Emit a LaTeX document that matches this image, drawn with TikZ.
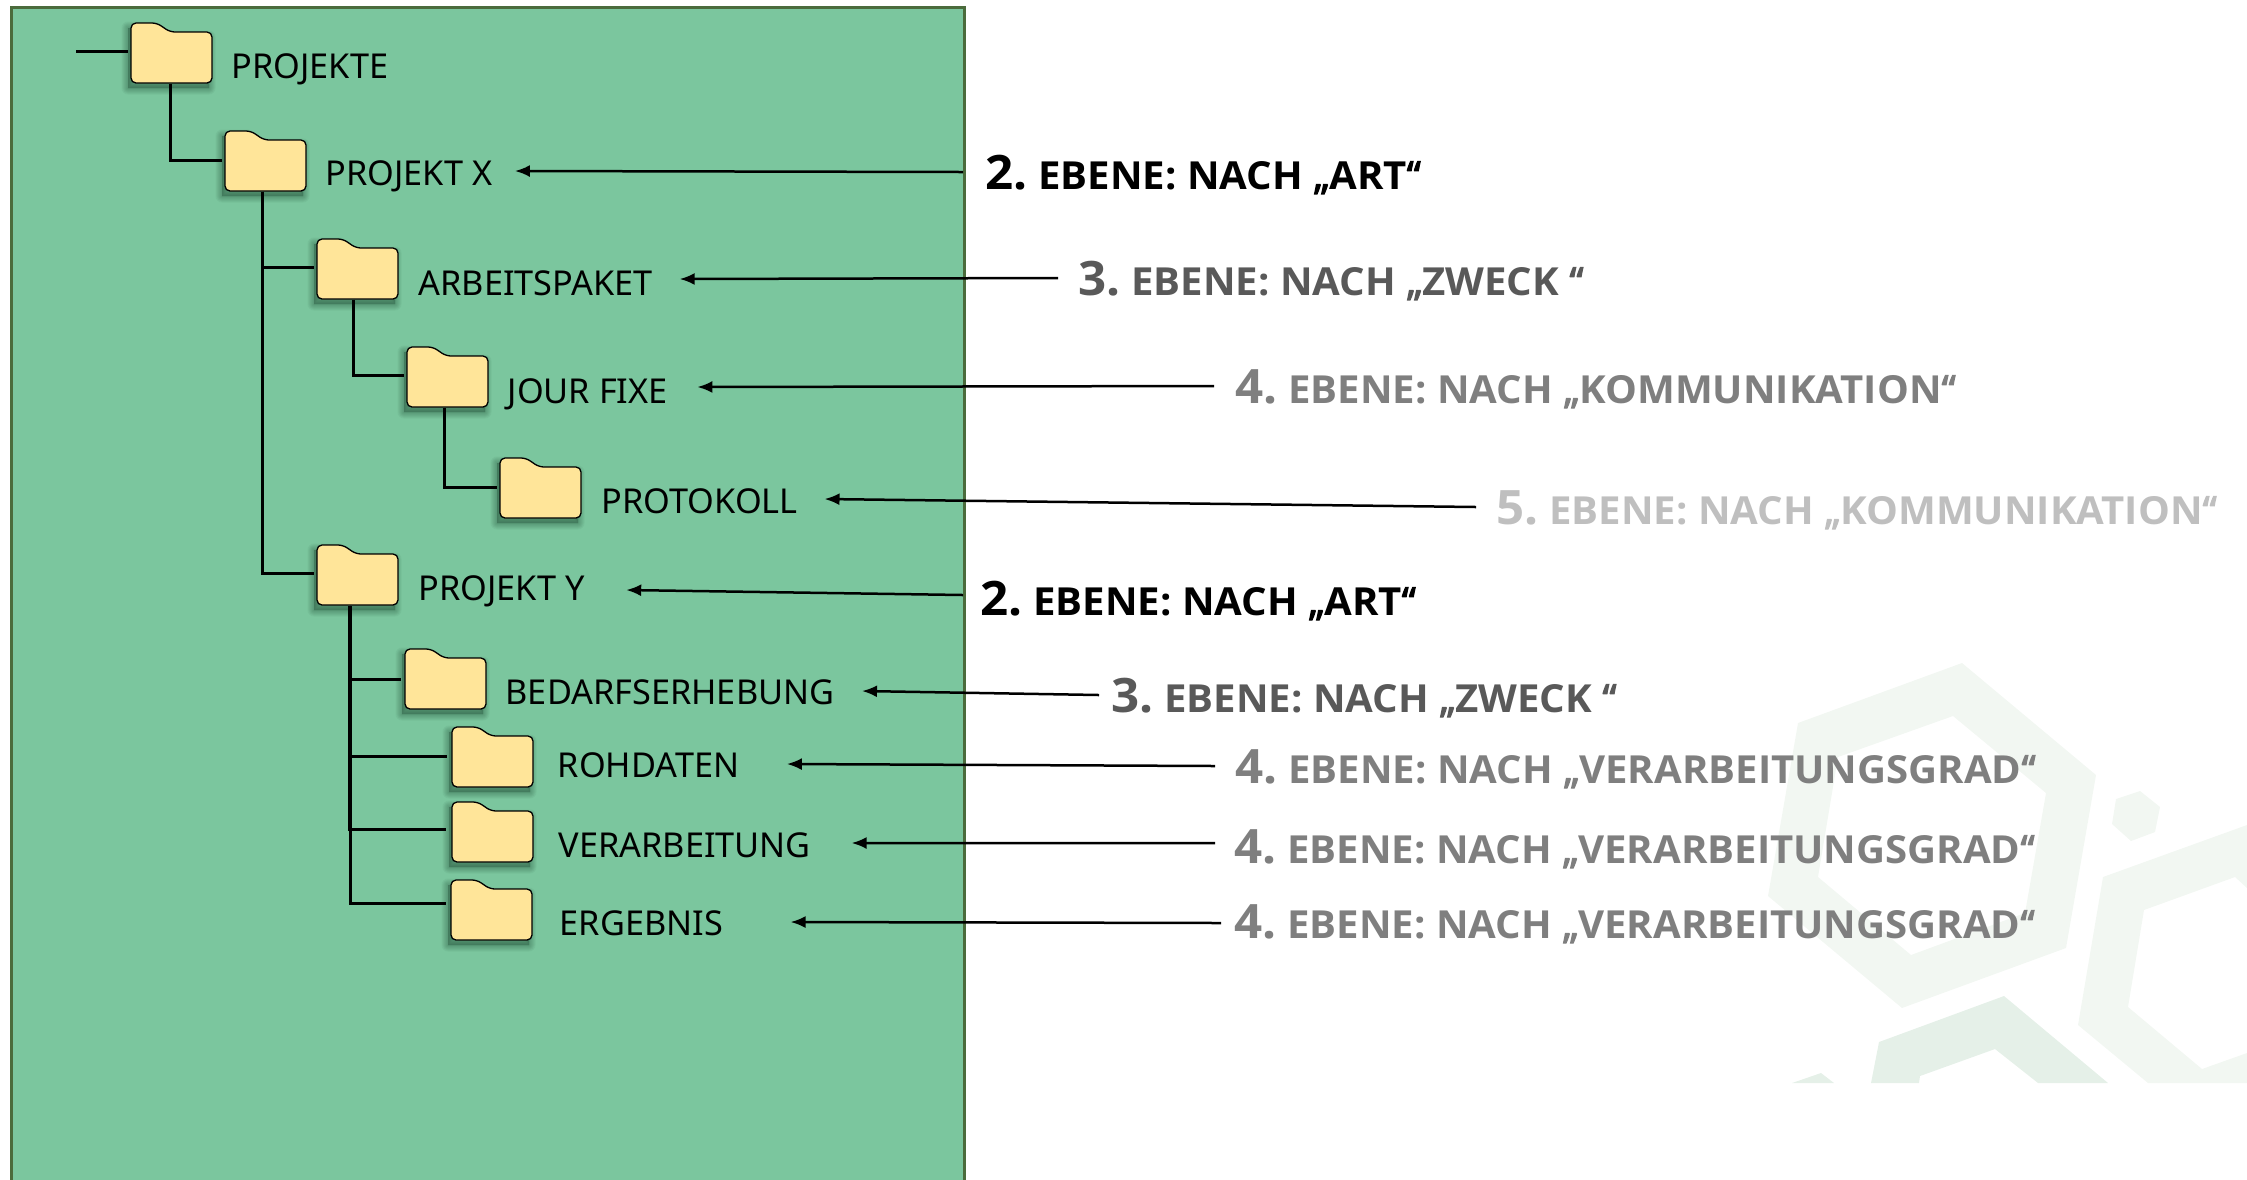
\documentclass[tikz,border=0pt]{standalone}
\usepackage{fontspec}
\setmainfont{Noto Sans}
\newfontfamily\labelfont{Open Sans}[FakeStretch=1.038]
\newfontfamily\quotefont{Noto Sans}[FakeBold=3]
\usetikzlibrary{arrows.meta}

\definecolor{panelfill}{HTML}{7BC69E}
\definecolor{panelline}{HTML}{4B6B3C}
\definecolor{folderfill}{HTML}{FFE599}
\definecolor{foldershade}{HTML}{1F4A33}
\definecolor{hexlight}{HTML}{F2F7F2}
\definecolor{hexdark}{HTML}{E5F0E8}
\definecolor{levelthree}{HTML}{595959}
\definecolor{levelfour}{HTML}{7F7F7F}
\definecolor{levelfive}{HTML}{BFBFBF}

\tikzset{
  folderbox/.style={minimum width=8.1mm,minimum height=6mm,inner sep=0pt},
  folderline/.style={draw=black,line width=0.13mm,fill=folderfill,rounded corners=0.5mm},
  treeline/.style={line width=0.3mm,black},
  pointer/.style={line width=0.25mm,black,-{Latex[length=1.5mm,width=1.2mm]}},
  foldertext/.style={anchor=base west,inner sep=0pt,text height=2.6mm,text depth=0pt,
    font=\fontsize{9.75}{11}\selectfont},
  levellabel/.style={anchor=base west,inner sep=0pt,text height=3.4mm,text depth=0pt,
    font=\labelfont\bfseries\fontsize{11}{13}\selectfont}
}

\newcommand{\folderpath}{(0,60) -- (0,0) -- (26,0) -- (39,9) -- (81,9) -- (81,60) -- cycle}
\newcommand{\folder}[3]{
  \begin{scope}[shift={(#2,#3)}]
    \foreach \w in {1,3,5,7,9,11,13}
      \draw[foldershade,opacity=0.06,fill,line width=\w*0.1mm,line join=round,shift={(-3,5)}] \folderpath;
    \draw[folderline] \folderpath;
  \end{scope}
  \node[folderbox] (#1) at (#2+40.5,#3+30) {};
}
\newcommand{\ebene}[2]{{\fontsize{13.5}{15}\selectfont #1.}\hspace{-1pt} EBENE: NACH {\quotefont „}#2{\quotefont “}}

\begin{document}
\begin{tikzpicture}[x=0.1mm,y=-0.1mm]
\useasboundingbox (0,0) rectangle (2247,1179);

\fill[hexlight,even odd rule] (1962,663) -- (2096,775) -- (2066,948) -- (1902,1008) -- (1768,896) -- (1798,723) -- cycle
  (1953,716) -- (2046,793) -- (2025,913) -- (1911,955) -- (1818,877) -- (1838,757) -- cycle;
\fill[hexlight] (2140,791) -- (2160,807) -- (2155,832) -- (2131,841) -- (2112,824) -- (2116,799) -- cycle;
\fill[hexlight,even odd rule] (2247,825) -- (2103,877) -- (2078,1025) -- (2148,1083) -- (2247,1083) -- cycle
  (2235,877) -- (2144,910) -- (2128,1007) -- (2202,1069) -- (2247,1053) -- (2247,888) -- cycle;
\fill[hexdark] (2004,996) -- (2108,1083) -- (2038,1083) -- (1995,1049) -- (1920,1076) -- (1919,1083) -- (1871,1083) -- (1879,1042) -- cycle;
\fill[hexdark] (1792,1083) -- (1821,1073) -- (1834,1083) -- cycle;

\draw[panelline,fill=panelfill,line width=0.3mm] (11,1190) -- (11,7) -- (964,7) -- (964,1190);

\coordinate (root) at (76,51);

\folder{projekte}{131}{23}
\folder{projektx}{225}{131}
\folder{arbeit}{317}{239}
\folder{jour}{407}{347}
\folder{protokoll}{500}{458}
\folder{projekty}{317}{545}
\folder{bedarf}{405}{649}
\folder{rohdaten}{452}{727}
\folder{verarb}{452}{802}
\folder{ergebnis}{451}{880}

\draw[treeline] (root) -- ([xshift=-0.2mm]root -| projekte.west);
\draw[treeline] ([xshift=-0.15mm]projekte.south) |- ([yshift=0.1mm,xshift=-0.2mm]projektx.west);
\draw[treeline] ([xshift=-0.35mm]projektx.south) |- ([yshift=0.2mm,xshift=-0.2mm]arbeit.west);
\draw[treeline] ([xshift=-0.35mm]projektx.south) |- ([yshift=0.2mm,xshift=-0.2mm]projekty.west);
\draw[treeline] ([xshift=-0.45mm]arbeit.south) |- ([yshift=0.2mm,xshift=-0.2mm]jour.west);
\draw[treeline] ([xshift=-0.35mm]jour.south) |- ([yshift=0.1mm,xshift=-0.2mm]protokoll.west);
\draw[treeline] ([xshift=-0.85mm]projekty.south) |- ([xshift=-0.3mm]bedarf.west);
\draw[treeline] ([xshift=-0.85mm]projekty.south) |- ([yshift=0.1mm,xshift=-0.4mm]rohdaten.west);
\draw[treeline] ([xshift=-0.85mm]projekty.south) |- ([yshift=0.3mm,xshift=-0.5mm]verarb.west);
\draw[treeline] ([xshift=-0.75mm]projekty.south) |- ([yshift=0.7mm,xshift=-0.4mm]ergebnis.west);

\node[foldertext] (tprojekte) at (231,78) {PROJEKTE};
\node[foldertext] (tprojektx) at (325,185) {PROJEKT X};
\node[foldertext] (tarbeit) at (418,295) {ARBEITSPAKET};
\node[foldertext] (tjour) at (507,403) {JOUR FIXE};
\node[foldertext] (tprotokoll) at (601,513) {PROTOKOLL};
\node[foldertext] (tprojekty) at (418,600) {PROJEKT Y};
\node[foldertext] (tbedarf) at (505,704) {BEDARFSERHEBUNG};
\node[foldertext] (trohdaten) at (557,777) {ROHDATEN};
\node[foldertext] (tverarb) at (558,857) {VERARBEITUNG};
\node[foldertext] (tergebnis) at (559,935) {ERGEBNIS};

\node[levellabel] (lprojektx) at (985,189) {\ebene{2}{ART}};
\node[levellabel,levelthree] (larbeit) at (1078,295) {\ebene{3}{ZWECK }};
\node[levellabel,levelfour] (ljour) at (1235,403) {\ebene{4}{KOMMUNIKATION}};
\node[levellabel,levelfive] (lprotokoll) at (1496,524) {\ebene{5}{KOMMUNIKATION}};
\node[levellabel] (lprojekty) at (980,615) {\ebene{2}{ART}};
\node[levellabel,levelthree] (lbedarf) at (1111,712) {\ebene{3}{ZWECK }};
\node[levellabel,levelfour] (lrohdaten) at (1235,783) {\ebene{4}{VERARBEITUNGSGRAD}};
\node[levellabel,levelfour] (lverarb) at (1234,863) {\ebene{4}{VERARBEITUNGSGRAD}};
\node[levellabel,levelfour] (lergebnis) at (1234,938) {\ebene{4}{VERARBEITUNGSGRAD}};

\draw[pointer] ([xshift=-2.2mm]lprojektx.west) -- ([xshift=2.2mm,yshift=0.1mm]tprojektx.east);
\draw[pointer] ([xshift=-2mm]larbeit.west) -- ([xshift=2.6mm,yshift=0.3mm]tarbeit.east);
\draw[pointer] ([xshift=-2.1mm]ljour.west) -- ([xshift=2.9mm,yshift=0.3mm]tjour.east);
\draw[pointer] ([xshift=-2mm]lprotokoll.west) -- ([xshift=2.6mm,yshift=0.1mm]tprotokoll.east);
\draw[pointer] ([xshift=-1.7mm,yshift=0.3mm]lprojekty.west) -- ([xshift=4.1mm,yshift=-0.3mm]tprojekty.east);
\draw[pointer] ([xshift=-1.2mm]lbedarf.west) -- ([xshift=2.7mm]tbedarf.east);
\draw[pointer] ([xshift=-2mm]lrohdaten.west) -- ([xshift=4.7mm]trohdaten.east);
\draw[pointer] ([xshift=-1.9mm,yshift=0.3mm]lverarb.west) -- ([xshift=4mm,yshift=0.1mm]tverarb.east);
\draw[pointer] ([xshift=-1.3mm,yshift=-0.2mm]lergebnis.west) -- ([xshift=6.7mm]tergebnis.east);
\end{tikzpicture}
\end{document}
